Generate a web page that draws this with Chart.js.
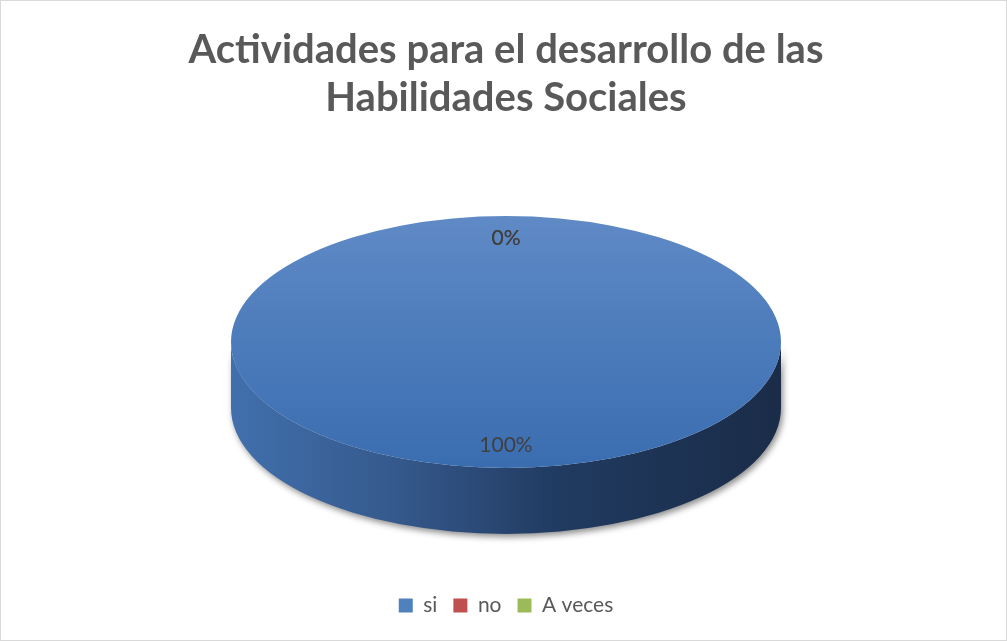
<!DOCTYPE html>
<html>
<head>
<meta charset="utf-8">
<script src="https://cdn.jsdelivr.net/npm/chart.js@4"></script>
<style>
html, body { margin: 0; padding: 0; background: #fff; }
#wrap { width: 1007px; height: 641px; position: relative; }
</style>
</head>
<body>
<div id="wrap"><canvas id="pie-chart"></canvas></div>
<script>
var categories = ['si', 'no', 'A veces'];
var values = [100, 0, 0];
var titleLines = ['Actividades para el desarrollo de las', 'Habilidades Sociales'];
var colors = ['#4f81bd', '#c0504d', '#9bbb59'];

var pieRadius = 275;
var tilt = 0.458;   // vertical squash of the top face
var depth = 66;     // thickness of the 3d side

// parts of an arc that face the viewer (lower half of the ellipse)
function frontSpans(start, end) {
    var spans = [];
    for (var k = -2; k <= 2; k++) {
        var a = Math.max(start, k * 2 * Math.PI);
        var b = Math.min(end, k * 2 * Math.PI + Math.PI);
        if (b > a) spans.push([a, b]);
    }
    return spans;
}

function topShade(c) {
    var chart = c.chart;
    var i = c.dataIndex;
    if (c.type !== 'data' || !chart.chartArea || i !== 0) return colors[i];
    var cy = (chart.chartArea.top + chart.chartArea.bottom) / 2;
    var g = chart.ctx.createLinearGradient(0, cy - pieRadius, 0, cy + pieRadius);
    g.addColorStop(0, '#5f8ac6');
    g.addColorStop(1, '#3a6db0');
    return g;
}

var pie3d = {
    id: 'pie3d',
    beforeDatasetsDraw: function(chart) {
        var ctx = chart.ctx;
        var meta = chart.getDatasetMeta(0);
        var first = meta.data[0];
        meta.data.forEach(function(arc, i) {
            var p = arc.getProps(['x', 'y', 'startAngle', 'endAngle', 'outerRadius'], true);
            var ry = p.outerRadius * tilt;
            frontSpans(p.startAngle, p.endAngle).forEach(function(s) {
                var g = ctx.createLinearGradient(p.x - p.outerRadius, 0, p.x + p.outerRadius, 0);
                if (i === 0) {
                    g.addColorStop(0, '#4170ad');
                    g.addColorStop(0.3, '#35598c');
                    g.addColorStop(0.6, '#203a60');
                    g.addColorStop(1, '#1a2c48');
                } else {
                    g.addColorStop(0, colors[i]);
                    g.addColorStop(1, '#333333');
                }
                ctx.save();
                ctx.shadowColor = 'rgba(0,0,0,0.45)';
                ctx.shadowBlur = 6;
                ctx.shadowOffsetX = 2;
                ctx.shadowOffsetY = 3;
                ctx.beginPath();
                ctx.ellipse(p.x, p.y, p.outerRadius, ry, 0, s[0], s[1], false);
                ctx.ellipse(p.x, p.y + depth, p.outerRadius, ry, 0, s[1], s[0], true);
                ctx.closePath();
                ctx.fillStyle = g;
                ctx.fill();
                ctx.restore();
            });
        });
        ctx.save();
        ctx.translate(first.x, first.y);
        ctx.scale(1, tilt);
        ctx.translate(-first.x, -first.y);
    },
    afterDatasetsDraw: function(chart) {
        var ctx = chart.ctx;
        ctx.restore();
        var meta = chart.getDatasetMeta(0);
        var total = values.reduce(function(a, b) { return a + b; }, 0);
        ctx.save();
        ctx.font = '21px Lato';
        ctx.fillStyle = '#404040';
        ctx.textAlign = 'center';
        ctx.textBaseline = 'middle';
        meta.data.forEach(function(arc, i) {
            var p = arc.getProps(['x', 'y', 'startAngle', 'endAngle', 'outerRadius'], true);
            var mid = (p.startAngle + p.endAngle) / 2;
            var lx = p.x + Math.cos(mid) * p.outerRadius * 0.8;
            var ly = p.y + Math.sin(mid) * p.outerRadius * tilt * 0.82;
            ctx.fillText(Math.round(values[i] / total * 100) + '%', lx, ly);
        });
        ctx.restore();
    },
    afterDraw: function(chart) {
        var ctx = chart.ctx;
        ctx.save();
        ctx.strokeStyle = '#d9d9d9';
        ctx.lineWidth = 1;
        ctx.strokeRect(0.5, 0.5, chart.width - 1, chart.height - 1);
        ctx.restore();
    }
};

var ctx = document.getElementById('pie-chart').getContext('2d');

var chart = new Chart(ctx, {
    type: 'pie',
    data: {
        labels: categories,
        datasets: [{
            data: values,
            backgroundColor: topShade,
            borderWidth: 0,
            clip: false
        }]
    },
    plugins: [pie3d],
    options: {
        responsive: true,
        maintainAspectRatio: false,
        animation: false,
        events: [],
        radius: pieRadius,
        layout: { padding: { left: 5, bottom: 15 } },
        plugins: {
            title: {
                display: true,
                text: titleLines,
                color: '#595959',
                font: { family: 'Lato', size: 40, weight: 'bold', lineHeight: 48 / 40 },
                padding: { top: 26, bottom: -17 }
            },
            legend: {
                position: 'bottom',
                labels: {
                    color: '#595959',
                    font: { family: 'Lato', size: 21 },
                    boxWidth: 14,
                    boxHeight: 14,
                    padding: 16,
                    generateLabels: function(chart) {
                        return categories.map(function(c, i) {
                            return { text: c, fillStyle: colors[i], strokeStyle: colors[i], lineWidth: 0, hidden: false, index: i, fontColor: '#595959' };
                        });
                    }
                }
            },
            tooltip: { enabled: false }
        }
    }
});
</script>
</body>
</html>
